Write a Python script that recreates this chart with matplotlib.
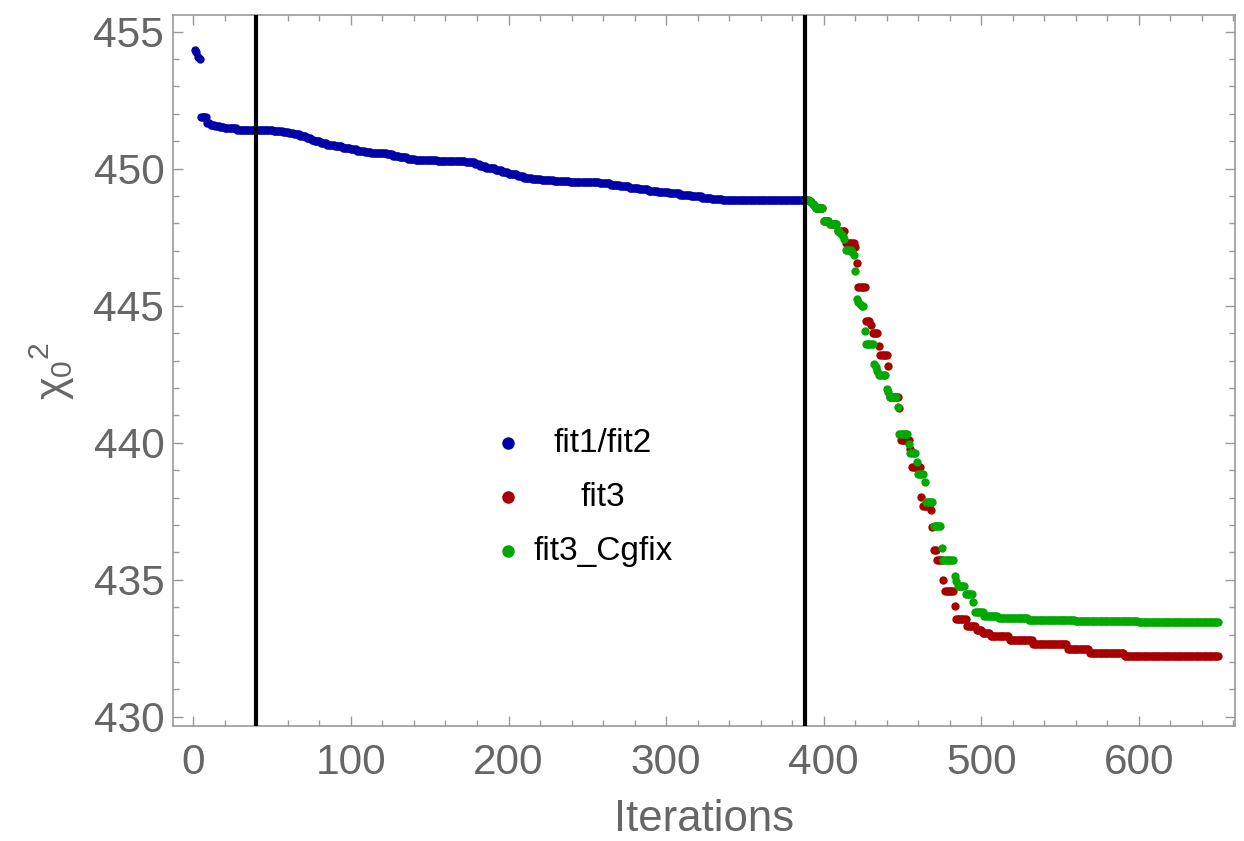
import matplotlib
matplotlib.use('Agg')
import matplotlib.pyplot as plt
import numpy as np

# runs of (count, value), one point per iteration
blue_start = 1
blue_runs = [
    (1, 454.34), (1, 454.26), (1, 454.08), (1, 453.99), (4, 451.88),
    (2, 451.66), (3, 451.61), (3, 451.57), (3, 451.53), (4, 451.50),
    (4, 451.47), (12, 451.43), (11, 451.41), (6, 451.38), (4, 451.33),
    (3, 451.29), (4, 451.25), (4, 451.20), (3, 451.12), (2, 451.06),
    (4, 451.00), (4, 450.95), (5, 450.88), (5, 450.83), (5, 450.76),
    (4, 450.71), (5, 450.66), (4, 450.62), (5, 450.59), (5, 450.56),
    (4, 450.52), (4, 450.48), (5, 450.41), (5, 450.36), (7, 450.33),
    (7, 450.31), (9, 450.29), (9, 450.27), (6, 450.25), (3, 450.18),
    (4, 450.08), (6, 450.02), (4, 449.95), (4, 449.87), (6, 449.80),
    (4, 449.74), (5, 449.66), (6, 449.61), (8, 449.57), (10, 449.54),
    (10, 449.52), (9, 449.50), (7, 449.46), (6, 449.42), (6, 449.37),
    (6, 449.31), (6, 449.25), (6, 449.20), (7, 449.15), (7, 449.10),
    (7, 449.04), (7, 448.99), (6, 448.94), (7, 448.90), (8, 448.86),
    (45, 448.84),
]

fit3_start = 389
shared_runs = [
    (2, 448.84), (1, 448.82), (1, 448.78), (1, 448.72), (1, 448.66),
    (5, 448.57), (4, 448.08), (5, 447.98),
]
red_runs = shared_runs + [
    (5, 447.72), (6, 447.28), (1, 447.14), (1, 446.56), (5, 445.70),
    (3, 444.43), (1, 444.30), (4, 444.00), (1, 443.52), (5, 443.19),
    (1, 442.79), (6, 441.66), (1, 441.28), (6, 440.10), (1, 439.76),
    (6, 439.11), (1, 438.01), (5, 437.68), (1, 437.56), (1, 436.94),
    (2, 436.10), (4, 435.72), (1, 434.99), (6, 434.60), (1, 434.03),
    (7, 433.56), (6, 433.32), (4, 433.16), (5, 433.06), (12, 432.95),
    (15, 432.80), (22, 432.66), (14, 432.48), (22, 432.34), (60, 432.23),
]
green_runs = shared_runs + [
    (1, 447.75), (1, 447.70), (1, 447.63), (1, 447.55), (1, 447.45),
    (4, 447.05), (1, 446.95), (1, 446.84), (1, 446.26), (1, 445.26),
    (1, 445.15), (1, 445.05), (2, 444.98), (1, 444.06), (5, 443.62),
    (1, 442.88), (1, 442.75), (1, 442.62), (5, 442.46), (1, 441.97),
    (1, 441.85), (5, 441.68), (1, 441.32), (6, 440.33), (1, 439.95),
    (4, 439.62), (1, 439.29), (4, 438.84), (1, 438.56), (5, 437.82),
    (5, 436.95), (1, 436.16), (7, 435.72), (1, 435.15), (1, 434.97),
    (5, 434.76), (5, 434.48), (1, 434.17), (6, 433.81), (9, 433.66),
    (19, 433.59), (30, 433.52), (40, 433.49), (30, 433.47), (21, 433.45),
]

stage_lines = [40, 388]
labels = ['fit1/fit2', 'fit3', 'fit3_Cgfix']
colors = ['#0000a8', '#a80000', '#00a800']


def expand(runs, start):
    counts = [c for c, v in runs]
    vals = [v for c, v in runs]
    y = np.repeat(vals, counts)
    x = np.arange(start, start + len(y))
    return x, y


plt.rcParams['font.family'] = ['Liberation Sans', 'DejaVu Sans']
plt.rcParams['mathtext.fontset'] = 'custom'
plt.rcParams['mathtext.rm'] = 'Liberation Sans'
plt.rcParams['mathtext.it'] = 'Liberation Sans'

gray = '#666666'
frame = '#999999'

fig = plt.figure(figsize=(12.44, 8.41), dpi=100)
ax = fig.add_axes([0.1388, 0.1367, 0.854, 0.8455])

series = [expand(blue_runs, blue_start), expand(red_runs, fit3_start), expand(green_runs, fit3_start)]
for (x, y), c in zip(series, colors):
    ax.plot(x, y, 'o', color=c, markersize=6.0, markeredgewidth=0)

for xv in stage_lines:
    ax.axvline(xv, color='black', lw=3.0, zorder=3)

ax.set_xlim(-13.1, 661)
ax.set_ylim(429.66, 455.61)
ax.set_xticks(np.arange(0, 601, 100))
ax.set_xticks(np.arange(0, 661, 20), minor=True)
ax.set_yticks(np.arange(430, 456, 5))
ax.set_yticks(np.arange(430, 456, 1), minor=True)
ax.tick_params(which='both', direction='in', top=True, right=True, color=frame, width=1.0)
ax.tick_params(which='major', length=7, labelsize=30.5, labelcolor=gray)
ax.tick_params(which='minor', length=4.5)
ax.tick_params(axis='x', which='major', pad=12)
ax.tick_params(axis='y', which='major', pad=6)
for s in ax.spines.values():
    s.set_color(frame)
    s.set_linewidth(1.2)

ax.set_xlabel('Iterations', fontsize=31.5, color=gray, labelpad=12)
ax.set_ylabel(r'$\chi_0{}^2$', fontsize=31, color=gray, labelpad=12)

# legend drawn by hand so the labels can be centred like the original
leg_y = [0.398, 0.322, 0.246]
for c, lab, ly in zip(colors, labels, leg_y):
    ax.plot([0.3157], [ly], 'o', color=c, markersize=9, markeredgewidth=0,
            transform=ax.transAxes, clip_on=False)
    ax.text(0.405, ly, lab, transform=ax.transAxes, ha='center', va='center',
            fontsize=24, color='black')

fig.savefig('out.png', dpi=100)
